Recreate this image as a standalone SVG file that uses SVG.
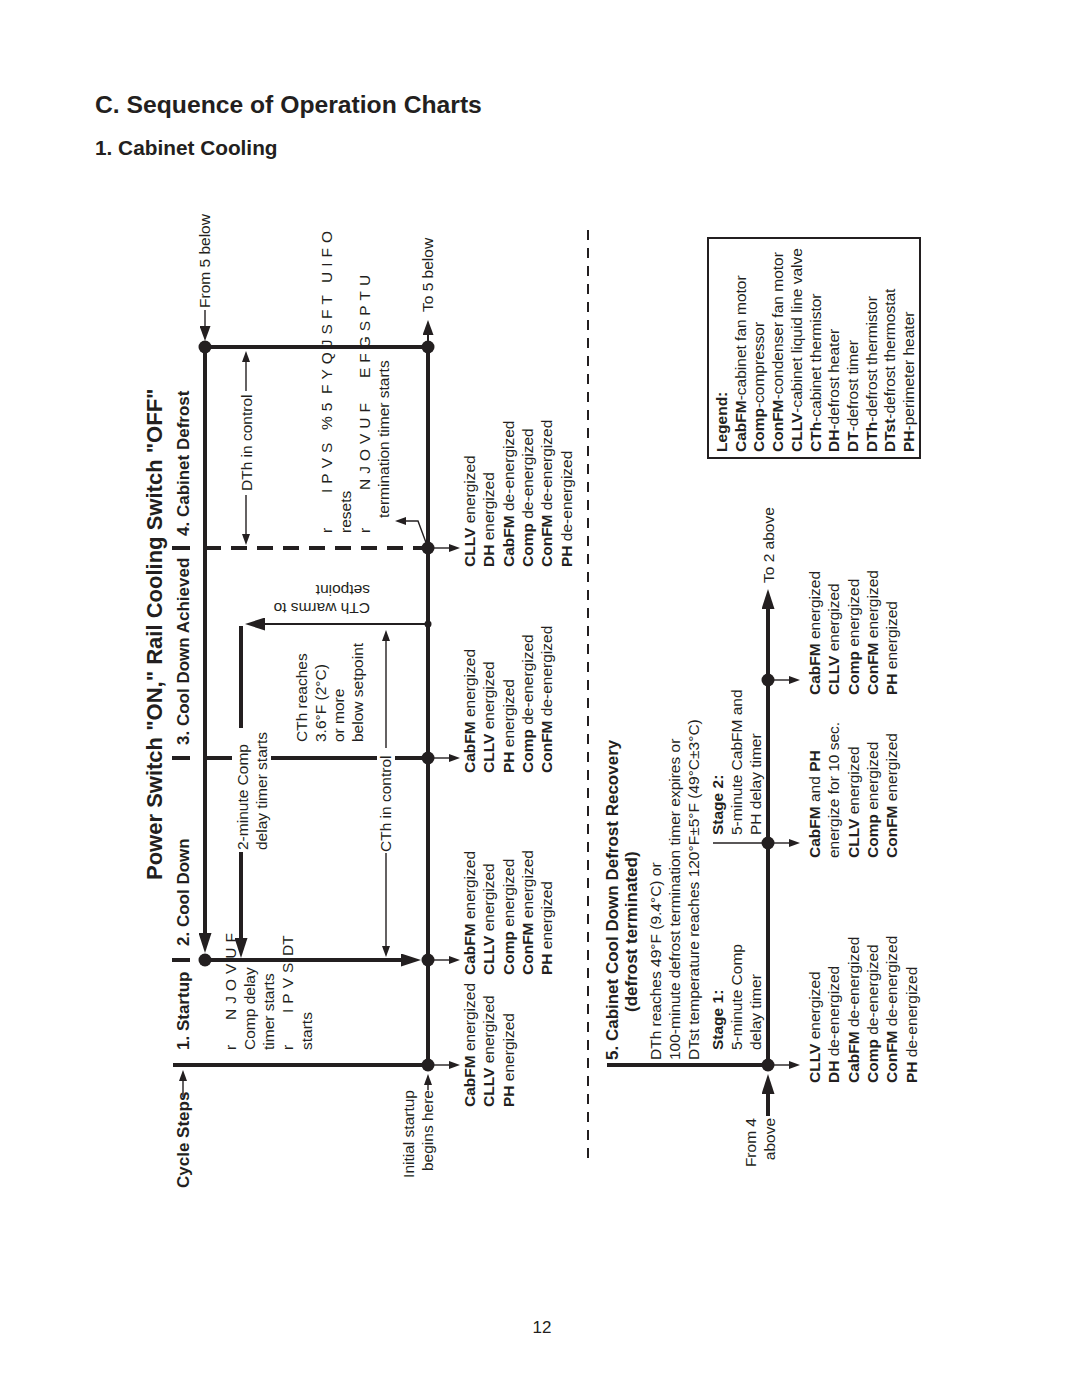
<svg xmlns="http://www.w3.org/2000/svg" width="1080" height="1397" viewBox="0 0 1080 1397">
<defs>
<style>
.t{font-family:"Liberation Sans",Arial,Helvetica,sans-serif;font-size:15.5px;fill:#231f20}
.b{font-weight:bold}
.h{font-family:"Liberation Sans",Arial,Helvetica,sans-serif;font-size:17px;font-weight:bold;fill:#231f20}
.g{letter-spacing:5px}
.thick{stroke:#231f20;stroke-width:4;fill:none}
.med{stroke:#231f20;stroke-width:2;fill:none}
.thin{stroke:#231f20;stroke-width:1.4;fill:none}
.dash{stroke-dasharray:16 10}
.sep{stroke:#231f20;stroke-width:2;stroke-dasharray:10 8;fill:none}
.dot{fill:#231f20}
</style>
<marker id="big" markerUnits="userSpaceOnUse" viewBox="0 0 20 13" markerWidth="20" markerHeight="13" refX="1" refY="6.5" orient="auto"><path d="M0,0 L20,6.5 L0,13 z" fill="#231f20"/></marker>
<marker id="mid" markerUnits="userSpaceOnUse" viewBox="0 0 15 11" markerWidth="15" markerHeight="11" refX="1" refY="5.5" orient="auto"><path d="M0,0 L15,5.5 L0,11 z" fill="#231f20"/></marker>
<marker id="sm" markerUnits="userSpaceOnUse" viewBox="0 0 11 8" markerWidth="11" markerHeight="8" refX="1" refY="4" orient="auto"><path d="M0,0 L11,4 L0,8 z" fill="#231f20"/></marker>
</defs>
<rect width="1080" height="1397" fill="#ffffff"/>

<g id="titles">
<text x="95" y="113" style="font-family:'Liberation Sans',Arial,sans-serif;font-size:24.7px;font-weight:bold;fill:#231f20">C. Sequence of Operation Charts</text>
<text x="95" y="155" style="font-family:'Liberation Sans',Arial,sans-serif;font-size:20.8px;font-weight:bold;fill:#231f20">1. Cabinet Cooling</text>
<text x="542" y="1333" text-anchor="middle" style="font-family:'Liberation Sans',Arial,sans-serif;font-size:17px;fill:#231f20">12</text>
<text transform="translate(162,880) rotate(-90)" style="font-family:'Liberation Sans',Arial,sans-serif;font-size:22px;font-weight:bold;fill:#231f20">Power Switch "ON," Rail Cooling Switch "OFF"</text>
</g>

<g id="connectors">
<line class="thick" x1="173" y1="1065" x2="428" y2="1065"/>
<line class="thick" x1="205" y1="960" x2="402" y2="960" marker-end="url(#big)"/>
<line class="thick" x1="205" y1="758" x2="232" y2="758"/>
<line class="thick" x1="271" y1="758" x2="377" y2="758"/>
<line class="thick" x1="395" y1="758" x2="428" y2="758"/>
<line class="thick dash" x1="205" y1="548" x2="428" y2="548"/>
<line class="thick" x1="205" y1="347" x2="428" y2="347"/>
<line class="thick" x1="205" y1="347" x2="205" y2="934" marker-end="url(#big)"/>
<line class="thick" x1="428" y1="347" x2="428" y2="1065"/>
<line class="thick" x1="241" y1="626" x2="241" y2="728"/>
<line class="thick" x1="241" y1="852" x2="241" y2="939" marker-end="url(#big)"/>
<line class="med" x1="428" y1="624" x2="264" y2="624" marker-end="url(#big)"/>
<line class="thin" x1="386" y1="748" x2="386" y2="640" marker-end="url(#sm)"/>
<line class="thin" x1="386" y1="853" x2="386" y2="947" marker-end="url(#sm)"/>
<line class="thin" x1="246" y1="391" x2="246" y2="361" marker-end="url(#sm)"/>
<line class="thin" x1="246" y1="495" x2="246" y2="535" marker-end="url(#sm)"/>
<polyline class="thin" points="428,548 418,521 405,521" marker-end="url(#sm)"/>
<line class="thin" x1="428" y1="1065" x2="450" y2="1065" marker-end="url(#sm)"/>
<line class="thin" x1="428" y1="960" x2="450" y2="960" marker-end="url(#sm)"/>
<line class="thin" x1="428" y1="758" x2="450" y2="758" marker-end="url(#sm)"/>
<line class="thin" x1="428" y1="548" x2="450" y2="548" marker-end="url(#sm)"/>
<line class="thin" x1="183" y1="1097" x2="183" y2="1080" marker-end="url(#sm)"/>
<line class="thin" x1="428" y1="1090" x2="428" y2="1084" marker-end="url(#sm)"/>
<line class="thin" x1="205" y1="310" x2="205" y2="327" marker-end="url(#mid)"/>
<line class="med" x1="428" y1="341" x2="428" y2="334" marker-end="url(#mid)"/>
<line class="thick" x1="172" y1="960" x2="190" y2="960"/>
<line class="thick" x1="172" y1="758" x2="190" y2="758"/>
<line class="thick" x1="172" y1="548" x2="190" y2="548"/>
<line class="sep" x1="588" y1="230" x2="588" y2="1165"/>
<line class="thick" x1="607" y1="1065" x2="768" y2="1065"/>
<line class="thick" x1="768" y1="680" x2="768" y2="1065"/>
<line class="thin" x1="713" y1="843" x2="768" y2="843"/>
<line class="thick" x1="768" y1="1116" x2="768" y2="1093" marker-end="url(#big)"/>
<line class="thick" x1="768" y1="674" x2="768" y2="608" marker-end="url(#big)"/>
<line class="thin" x1="768" y1="1065" x2="790" y2="1065" marker-end="url(#sm)"/>
<line class="thin" x1="768" y1="843" x2="790" y2="843" marker-end="url(#sm)"/>
<line class="thin" x1="768" y1="680" x2="790" y2="680" marker-end="url(#sm)"/>
<circle class="dot" cx="428" cy="1065" r="6.5"/>
<circle class="dot" cx="428" cy="960" r="6.5"/>
<circle class="dot" cx="428" cy="758" r="6.5"/>
<circle class="dot" cx="428" cy="548" r="6.5"/>
<circle class="dot" cx="428" cy="347" r="6.5"/>
<circle class="dot" cx="205" cy="960" r="6.5"/>
<circle class="dot" cx="205" cy="347" r="6.5"/>
<circle class="dot" cx="428" cy="624" r="3.5"/>
<circle class="dot" cx="768" cy="1065" r="6.5"/>
<circle class="dot" cx="768" cy="843" r="6.5"/>
<circle class="dot" cx="768" cy="680" r="6.5"/>
</g>

<g id="cycle-steps">
<text class="h" transform="translate(189,1188) rotate(-90)">Cycle Steps</text>
<text class="t" transform="translate(433,1090) rotate(-90)" text-anchor="end"><tspan x="0" y="-19">Initial startup</tspan><tspan x="0" y="0">begins here</tspan></text>
</g>

<g id="step1">
<text class="h" transform="translate(189,1050) rotate(-90)">1. Startup</text>
<text class="t" transform="translate(236,1050) rotate(-90)">r</text>
<text class="t g" transform="translate(236,1020) rotate(-90)">NJOVUF</text>
<text class="t" transform="translate(255,1050) rotate(-90)"><tspan x="0" y="0">Comp delay</tspan><tspan x="0" y="19">timer starts</tspan></text>
<text class="t" transform="translate(293,1050) rotate(-90)">r</text>
<text class="t g" transform="translate(293,1013) rotate(-90)">IPVS</text>
<text class="t" transform="translate(293,956) rotate(-90)">DT</text>
<text class="t" transform="translate(312,1050) rotate(-90)">starts</text>
<text class="t" transform="translate(475,1107) rotate(-90)"><tspan x="0" y="0"><tspan class="b">CabFM</tspan> energized</tspan><tspan x="0" y="19.3"><tspan class="b">CLLV</tspan> energized</tspan><tspan x="0" y="38.6"><tspan class="b">PH</tspan> energized</tspan></text>
</g>

<g id="step2">
<text class="h" transform="translate(189,946) rotate(-90)">2. Cool Down</text>
<text class="t" transform="translate(248,850) rotate(-90)"><tspan x="0" y="0">2-minute Comp</tspan><tspan x="0" y="19">delay timer starts</tspan></text>
<text class="t" transform="translate(391,852) rotate(-90)">CTh in control</text>
<text class="t" transform="translate(475,975) rotate(-90)"><tspan x="0" y="0"><tspan class="b">CabFM</tspan> energized</tspan><tspan x="0" y="19.3"><tspan class="b">CLLV</tspan> energized</tspan><tspan x="0" y="38.6"><tspan class="b">Comp</tspan> energized</tspan><tspan x="0" y="57.9"><tspan class="b">ConFM</tspan> energized</tspan><tspan x="0" y="77.2"><tspan class="b">PH</tspan> energized</tspan></text>
</g>

<g id="step3">
<text class="h" transform="translate(189,745) rotate(-90)">3. Cool Down Achieved</text>
<text class="t" transform="translate(307,742) rotate(-90)"><tspan x="0" y="0">CTh reaches</tspan><tspan x="0" y="18.5">3.6°F (2°C)</tspan><tspan x="0" y="37">or more</tspan><tspan x="0" y="55.5">below setpoint</tspan></text>
<text class="t" transform="translate(370,603) rotate(180)">CTh warms to</text>
<text class="t" transform="translate(370,585) rotate(180)">setpoint</text>
<text class="t" transform="translate(475,773) rotate(-90)"><tspan x="0" y="0"><tspan class="b">CabFM</tspan> energized</tspan><tspan x="0" y="19.3"><tspan class="b">CLLV</tspan> energized</tspan><tspan x="0" y="38.6"><tspan class="b">PH</tspan> energized</tspan><tspan x="0" y="57.9"><tspan class="b">Comp</tspan> de-energized</tspan><tspan x="0" y="77.2"><tspan class="b">ConFM</tspan> de-energized</tspan></text>
</g>

<g id="step4">
<text class="h" transform="translate(189,536) rotate(-90)">4. Cabinet Defrost</text>
<text class="t" transform="translate(252,491) rotate(-90)">DTh in control</text>
<text class="t" transform="translate(332,533) rotate(-90)">r</text>
<text class="t g" transform="translate(332,493) rotate(-90)">IPVS</text>
<text class="t g" transform="translate(332,430) rotate(-90)">%5</text>
<text class="t g" transform="translate(332,394) rotate(-90)">FYQJSFT</text>
<text class="t g" transform="translate(332,283) rotate(-90)">UIFO</text>
<text class="t" transform="translate(351,533) rotate(-90)">resets</text>
<text class="t" transform="translate(370,533) rotate(-90)">r</text>
<text class="t g" transform="translate(370,490) rotate(-90)">NJOVUF</text>
<text class="t g" transform="translate(370,378) rotate(-90)">EFGSPTU</text>
<text class="t" transform="translate(389,518) rotate(-90)">termination timer starts</text>
<text class="t" transform="translate(210,308) rotate(-90)">From 5 below</text>
<text class="t" transform="translate(433,312) rotate(-90)">To 5 below</text>
<text class="t" transform="translate(475,567) rotate(-90)"><tspan x="0" y="0"><tspan class="b">CLLV</tspan> energized</tspan><tspan x="0" y="19.3"><tspan class="b">DH</tspan> energized</tspan><tspan x="0" y="38.6"><tspan class="b">CabFM</tspan> de-energized</tspan><tspan x="0" y="57.9"><tspan class="b">Comp</tspan> de-energized</tspan><tspan x="0" y="77.2"><tspan class="b">ConFM</tspan> de-energized</tspan><tspan x="0" y="96.5"><tspan class="b">PH</tspan> de-energized</tspan></text>
</g>

<g id="step5">
<text class="h" transform="translate(618,1060) rotate(-90)">5. Cabinet Cool Down Defrost Recovery</text>
<text class="h" transform="translate(637,1012) rotate(-90)">(defrost terminated)</text>
<text class="t" transform="translate(661,1060) rotate(-90)"><tspan x="0" y="0">DTh reaches 49°F (9.4°C) or</tspan><tspan x="0" y="19">100-minute defrost termination timer expires or</tspan><tspan x="0" y="38">DTst temperature reaches 120°F±5°F (49°C±3°C)</tspan></text>
<text class="t" transform="translate(723,1050) rotate(-90)"><tspan x="0" y="0" class="b">Stage 1:</tspan><tspan x="0" y="19">5-minute Comp</tspan><tspan x="0" y="38">delay timer</tspan></text>
<text class="t" transform="translate(723,835) rotate(-90)"><tspan x="0" y="0" class="b">Stage 2:</tspan><tspan x="0" y="19">5-minute CabFM and</tspan><tspan x="0" y="38">PH delay timer</tspan></text>
<text class="t" transform="translate(775,1118) rotate(-90)" text-anchor="end"><tspan x="0" y="-19">From 4</tspan><tspan x="0" y="0">above</tspan></text>
<text class="t" transform="translate(774,583) rotate(-90)">To 2 above</text>
<text class="t" transform="translate(820,1083) rotate(-90)"><tspan x="0" y="0"><tspan class="b">CLLV</tspan> energized</tspan><tspan x="0" y="19.3"><tspan class="b">DH</tspan> de-energized</tspan><tspan x="0" y="38.6"><tspan class="b">CabFM</tspan> de-energized</tspan><tspan x="0" y="57.9"><tspan class="b">Comp</tspan> de-energized</tspan><tspan x="0" y="77.2"><tspan class="b">ConFM</tspan> de-energized</tspan><tspan x="0" y="96.5"><tspan class="b">PH</tspan> de-energized</tspan></text>
<text class="t" transform="translate(820,858) rotate(-90)"><tspan x="0" y="0"><tspan class="b">CabFM</tspan> and <tspan class="b">PH</tspan></tspan><tspan x="0" y="19.3">energize for 10 sec.</tspan><tspan x="0" y="38.6"><tspan class="b">CLLV</tspan> energized</tspan><tspan x="0" y="57.9"><tspan class="b">Comp</tspan> energized</tspan><tspan x="0" y="77.2"><tspan class="b">ConFM</tspan> energized</tspan></text>
<text class="t" transform="translate(820,695) rotate(-90)"><tspan x="0" y="0"><tspan class="b">CabFM</tspan> energized</tspan><tspan x="0" y="19.3"><tspan class="b">CLLV</tspan> energized</tspan><tspan x="0" y="38.6"><tspan class="b">Comp</tspan> energized</tspan><tspan x="0" y="57.9"><tspan class="b">ConFM</tspan> energized</tspan><tspan x="0" y="77.2"><tspan class="b">PH</tspan> energized</tspan></text>
</g>

<g id="legend">
<rect x="708" y="238" width="212" height="220" fill="none" stroke="#231f20" stroke-width="2"/>
<text class="t" transform="translate(727,452) rotate(-90)"><tspan x="0" y="0" class="b">Legend:</tspan><tspan x="0" y="18.7"><tspan class="b">CabFM</tspan>-cabinet fan motor</tspan><tspan x="0" y="37.4"><tspan class="b">Comp</tspan>-compressor</tspan><tspan x="0" y="56.1"><tspan class="b">ConFM</tspan>-condenser fan motor</tspan><tspan x="0" y="74.8"><tspan class="b">CLLV</tspan>-cabinet liquid line valve</tspan><tspan x="0" y="93.5"><tspan class="b">CTh</tspan>-cabinet thermistor</tspan><tspan x="0" y="112.2"><tspan class="b">DH</tspan>-defrost heater</tspan><tspan x="0" y="130.9"><tspan class="b">DT</tspan>-defrost timer</tspan><tspan x="0" y="149.6"><tspan class="b">DTh</tspan>-defrost thermistor</tspan><tspan x="0" y="168.3"><tspan class="b">DTst</tspan>-defrost thermostat</tspan><tspan x="0" y="187"><tspan class="b">PH</tspan>-perimeter heater</tspan></text>
</g>
</svg>
